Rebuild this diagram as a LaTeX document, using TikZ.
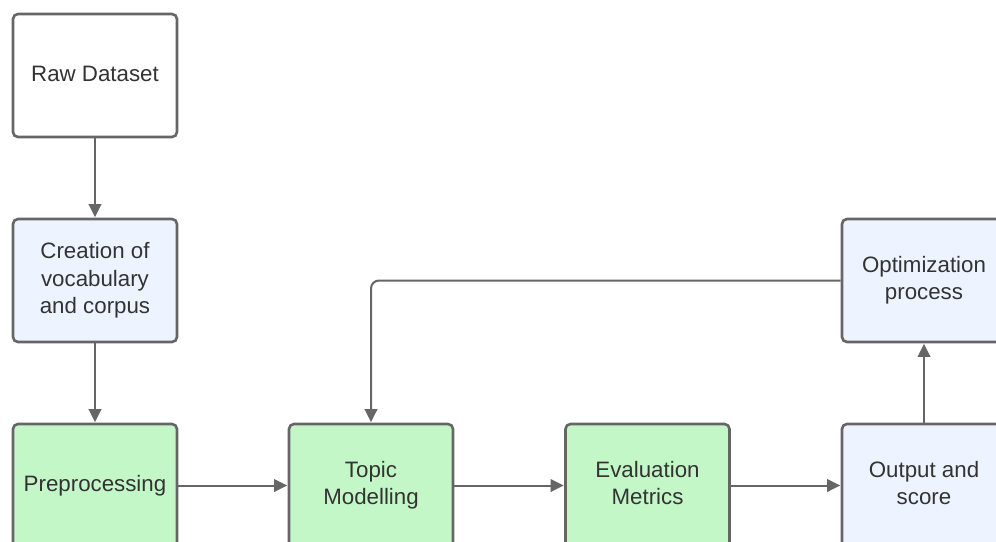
\documentclass[tikz,border=0pt]{standalone}
\usepackage{fontspec}
\setmainfont{Liberation Sans}
\usetikzlibrary{arrows.meta}
\definecolor{edge}{HTML}{666666}
\definecolor{txt}{HTML}{333333}
\definecolor{greenfill}{HTML}{C3F7C8}
\definecolor{bluefill}{HTML}{EDF4FF}
\newcommand{\boxtext}[1]{\raisebox{1.5pt}{\begin{tabular}{@{}c@{}}#1\end{tabular}}}
\tikzset{
  box/.style={draw=edge, line width=2.6pt, rounded corners=5pt, minimum width=164pt, minimum height=123pt, inner sep=0pt, align=center, text=txt, font=\fontsize{22.3}{27.5}\selectfont},
  whitebox/.style={box, fill=white},
  greenbox/.style={box, fill=greenfill},
  bluebox/.style={box, fill=bluefill},
  conn/.style={draw=edge, line width=2pt, -{Triangle[length=13pt,width=12.5pt]}, shorten >=0.5pt}
}
\begin{document}
\begin{tikzpicture}[x=1pt,y=-1pt]
\useasboundingbox (0,0) rectangle (996,541);
\node[whitebox] (raw) at (95,75.5) {\boxtext{Raw Dataset}};
\node[bluebox] (voc) at (95,280.5) {\boxtext{Creation of\\vocabulary\\and corpus}};
\node[greenbox] (pre) at (95,485.5) {\boxtext{Preprocessing}};
\node[greenbox] (topic) at (371,485.5) {\boxtext{Topic\\Modelling}};
\node[greenbox] (eval) at (647.5,485.5) {\boxtext{Evaluation\\Metrics}};
\node[bluebox] (out) at (924,485.5) {\boxtext{Output and\\score}};
\node[bluebox] (opt) at (924,280.5) {\boxtext{Optimization\\process}};
\draw[conn] (raw) -- (voc);
\draw[conn] (voc) -- (pre);
\draw[conn] (pre) -- (topic);
\draw[conn] (topic) -- (eval);
\draw[conn] (eval) -- (out);
\draw[conn] (out) -- (opt);
\draw[conn, rounded corners=8pt] (opt.west) -- (topic.center |- opt.west) -- (topic.north);
\end{tikzpicture}
\end{document}
